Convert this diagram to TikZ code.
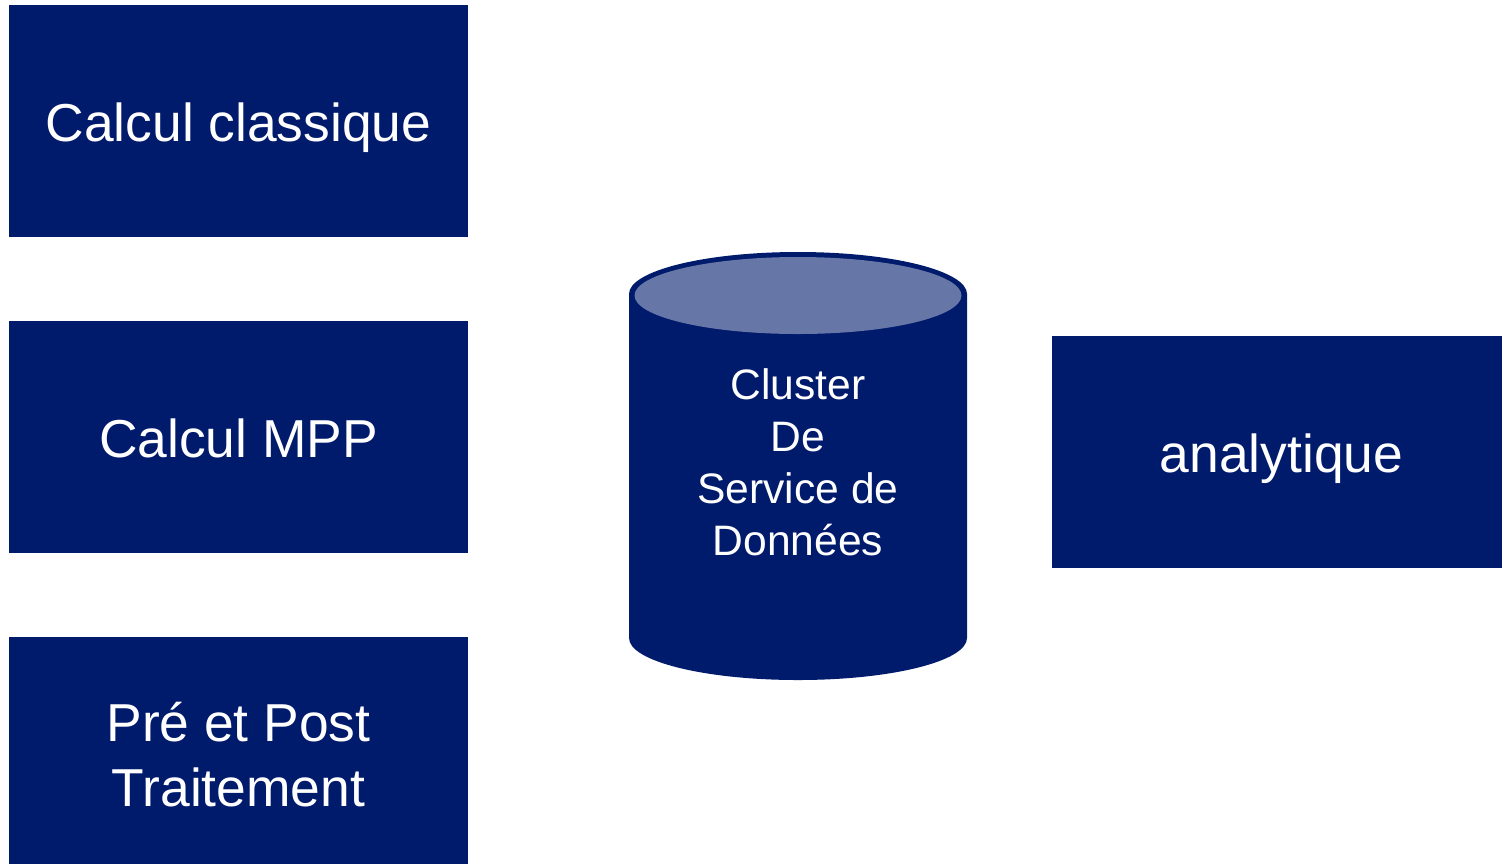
\documentclass[tikz,border=0pt]{standalone}
\usepackage{fontspec}
\setmainfont{Liberation Sans}
\definecolor{navy}{HTML}{001A6C}
\definecolor{lidblue}{HTML}{6676A7}
\begin{document}
\begin{tikzpicture}[x=0.5pt,y=-0.5pt,
  block/.style={fill=navy,draw=none,minimum width=229.5pt,minimum height=116pt,
    inner sep=0pt,text=white,font=\fontsize{26.7}{32.5}\selectfont,align=center},
  oneline/.style={text height=20pt,text depth=0pt},
  dblabel/.style={text=white,font=\fontsize{21.3}{26}\selectfont,align=center,inner sep=0pt}]
\useasboundingbox (0,0) rectangle (1502,863);
\clip (0,0) rectangle (1502,863);

% left column of compute blocks
\node[block,oneline] (classique) at (238.5,121) {Calcul classique};
\node[block,oneline] (mpp) at (238.5,437) {Calcul MPP};
\node[block,minimum height=118pt] (prepost) at (238.5,755) {Pré et Post\\Traitement};

% analytics block on the right
\node[block,oneline] (analytique) at (1281.5,452) {analytique};

% data service cylinder
\fill[navy] (629,294) -- (629,638) arc[start angle=180,end angle=0,x radius=169,y radius=42]
  -- (967,294) arc[start angle=360,end angle=180,x radius=169,y radius=42] -- cycle;
\fill[lidblue] (798,295.5) ellipse[x radius=163.5,y radius=38.5];
\node[dblabel] (cluster) at (798,462) {Cluster\\De\\Service de\\Données};
\end{tikzpicture}
\end{document}
